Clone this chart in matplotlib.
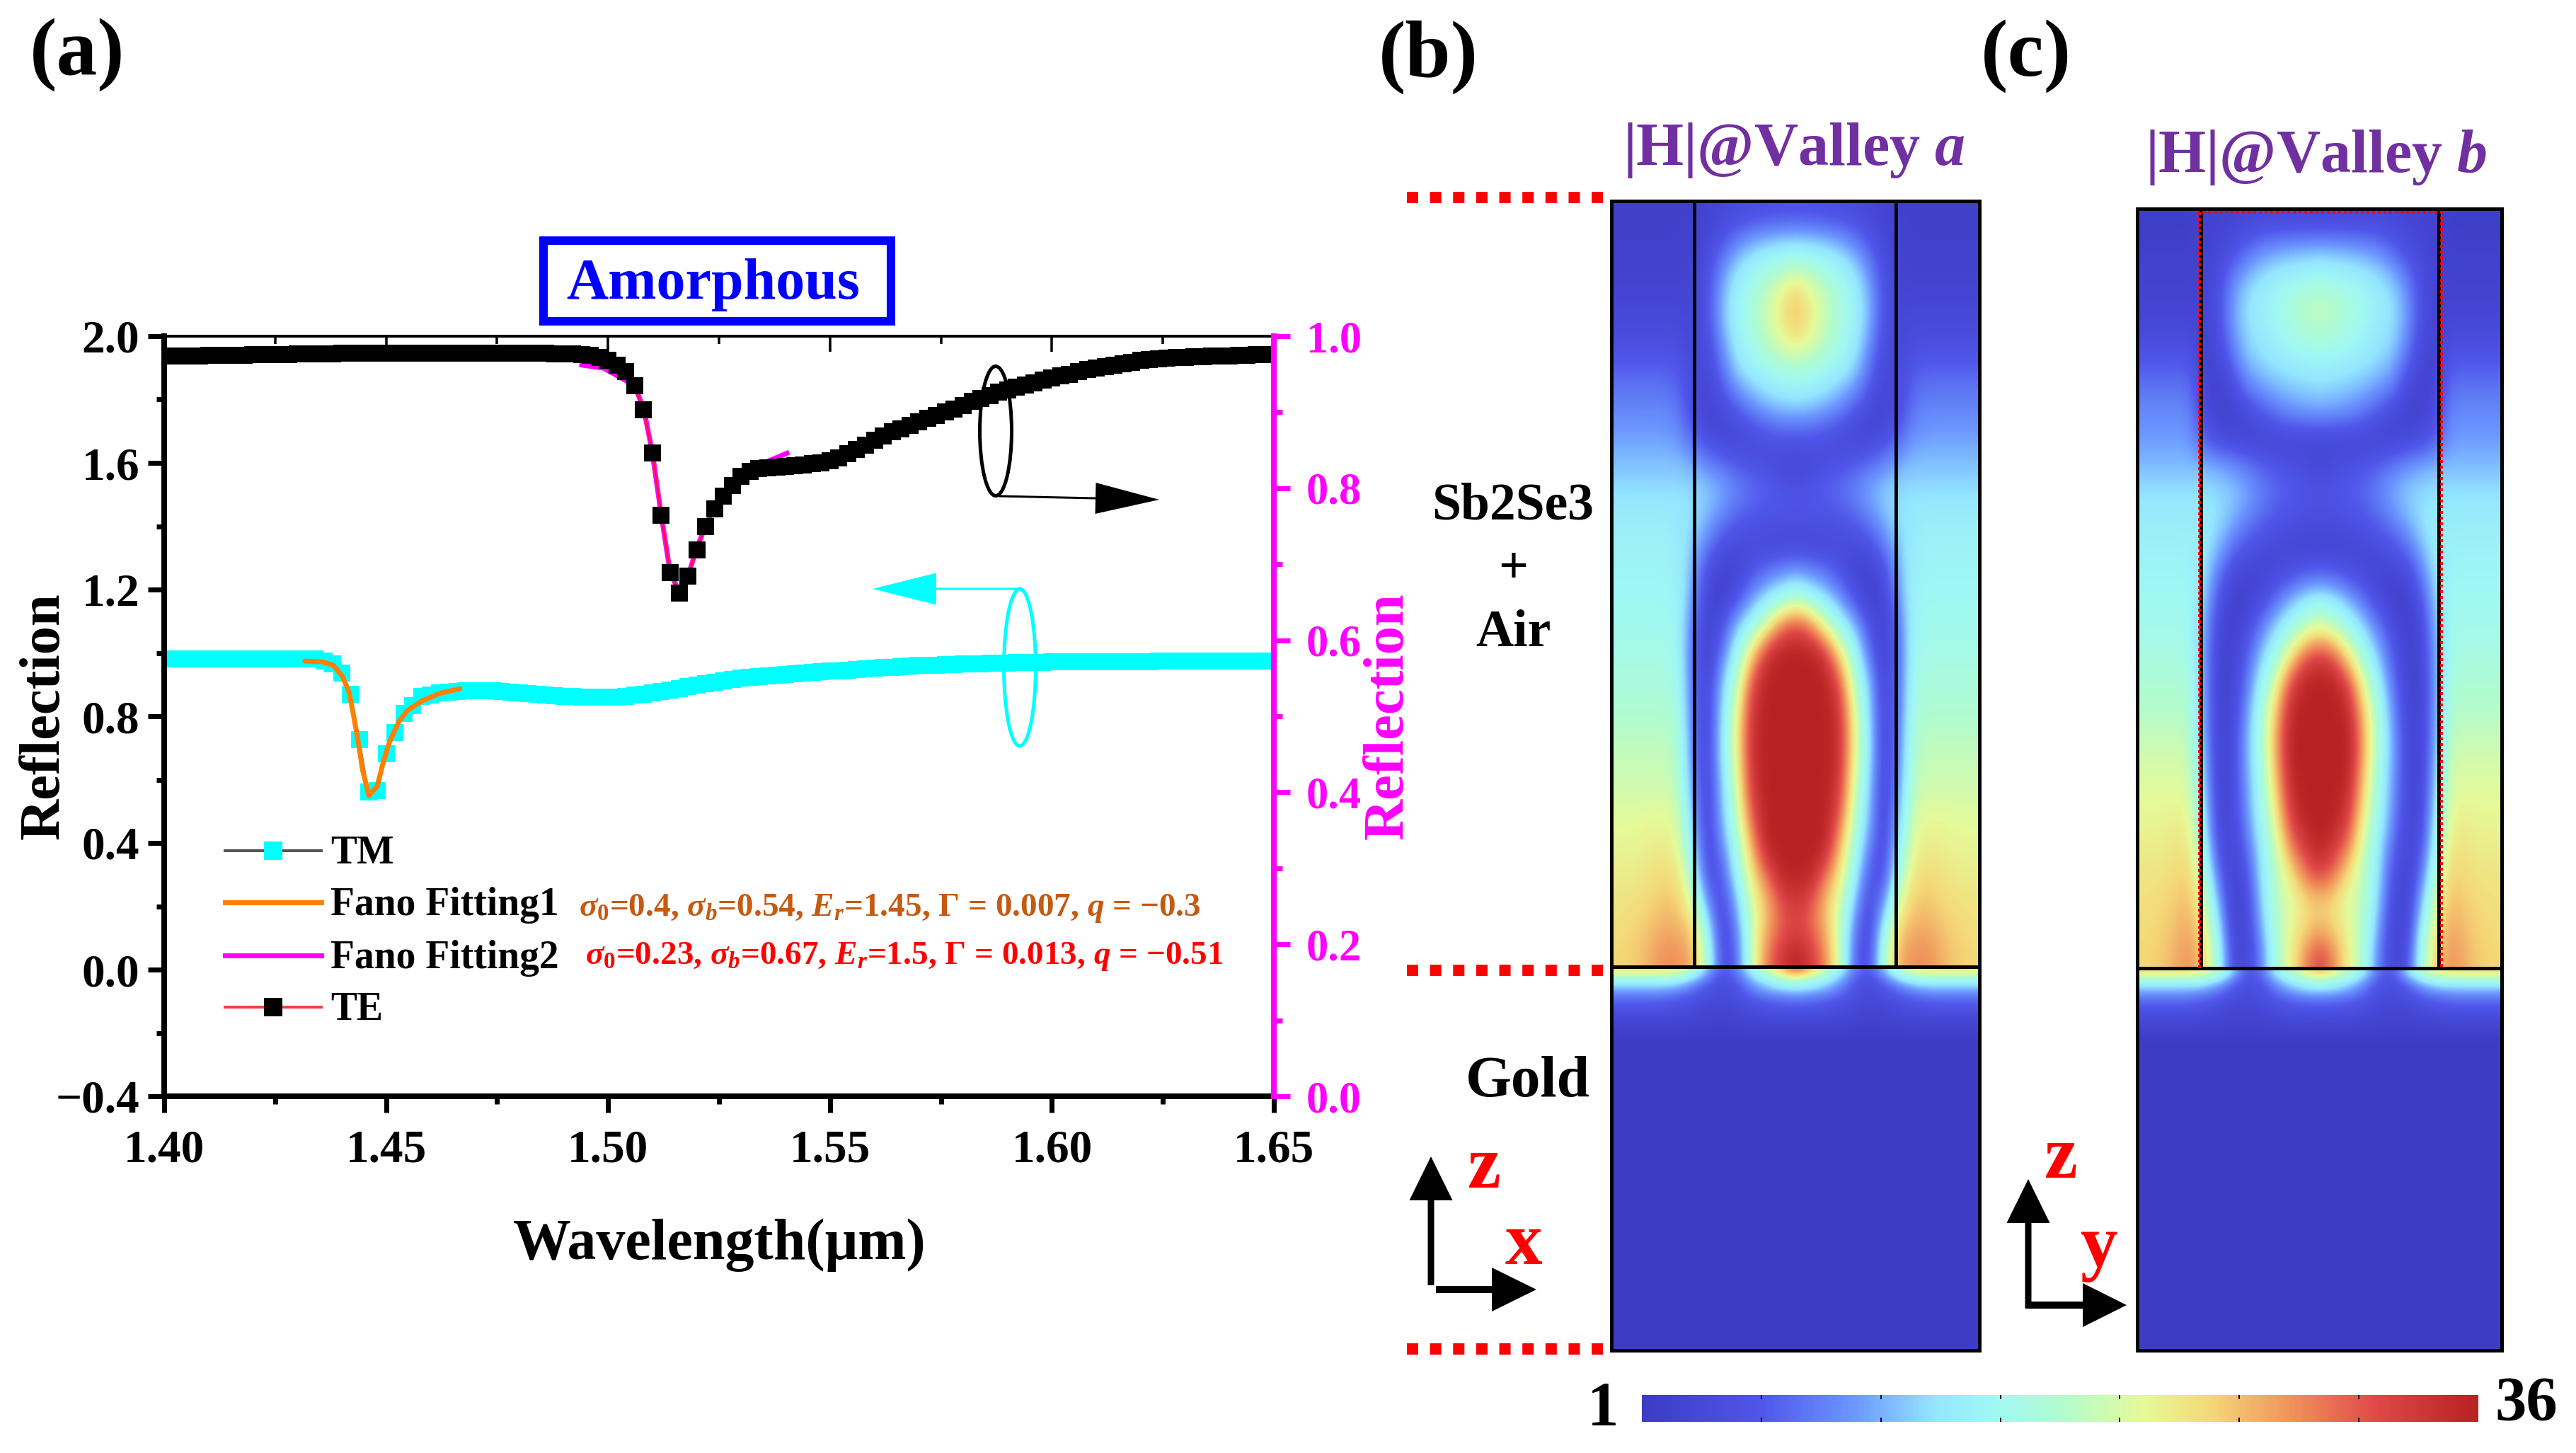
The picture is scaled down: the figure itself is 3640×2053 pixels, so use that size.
import numpy as np
import matplotlib
matplotlib.use('Agg')
import matplotlib.pyplot as plt
from matplotlib.colors import LinearSegmentedColormap, Normalize
from matplotlib.cm import ScalarMappable
from matplotlib.patches import Ellipse, Rectangle
from matplotlib.ticker import MultipleLocator, FormatStrFormatter, FuncFormatter

plt.rcParams['font.family'] = ['Liberation Serif', 'DejaVu Serif']
plt.rcParams['font.weight'] = 'bold'
plt.rcParams['mathtext.fontset'] = 'custom'
plt.rcParams['mathtext.rm'] = 'Liberation Serif:bold'
plt.rcParams['mathtext.it'] = 'Liberation Serif:italic:bold'
plt.rcParams['mathtext.bf'] = 'Liberation Serif:bold'

W, H = 3641, 2053
PX = 0.72  # one pixel in points at dpi 100

# data
wavelength = [
    1.400, 1.402, 1.404, 1.406, 1.408, 1.410, 1.412, 1.414, 1.416, 1.418,
    1.420, 1.422, 1.424, 1.426, 1.428, 1.430, 1.432, 1.434, 1.436, 1.438,
    1.440, 1.442, 1.444, 1.446, 1.448, 1.450, 1.452, 1.454, 1.456, 1.458,
    1.460, 1.462, 1.464, 1.466, 1.468, 1.470, 1.472, 1.474, 1.476, 1.478,
    1.480, 1.482, 1.484, 1.486, 1.488, 1.490, 1.492, 1.494, 1.496, 1.498,
    1.500, 1.502, 1.504, 1.506, 1.508, 1.510, 1.512, 1.514, 1.516, 1.518,
    1.520, 1.522, 1.524, 1.526, 1.528, 1.530, 1.532, 1.534, 1.536, 1.538,
    1.540, 1.542, 1.544, 1.546, 1.548, 1.550, 1.552, 1.554, 1.556, 1.558,
    1.560, 1.562, 1.564, 1.566, 1.568, 1.570, 1.572, 1.574, 1.576, 1.578,
    1.580, 1.582, 1.584, 1.586, 1.588, 1.590, 1.592, 1.594, 1.596, 1.598,
    1.600, 1.602, 1.604, 1.606, 1.608, 1.610, 1.612, 1.614, 1.616, 1.618,
    1.620, 1.622, 1.624, 1.626, 1.628, 1.630, 1.632, 1.634, 1.636, 1.638,
    1.640, 1.642, 1.644, 1.646, 1.648, 1.650]
tm_reflection = [
    .980, .980, .980, .980, .980, .980, .980, .980, .980, .980,
    .980, .980, .980, .980, .980, .980, .980, .980, .975, .965,
    .936, .869, .726, .561, .565, .682, .749, .810, .833, .862,
    .868, .873, .877, .879, .880, .881, .881, .880, .878, .876,
    .874, .871, .869, .867, .865, .863, .862, .861, .860, .860,
    .860, .861, .863, .866, .869, .873, .878, .883, .888, .893,
    .898, .903, .908, .912, .916, .920, .923, .926, .928, .930,
    .932, .934, .936, .938, .940, .942, .944, .946, .948, .950,
    .952, .954, .955, .957, .958, .960, .961, .962, .963, .964,
    .965, .966, .966, .967, .968, .968, .969, .969, .970, .970,
    .971, .971, .971, .972, .972, .972, .972, .973, .973, .973,
    .973, .973, .974, .974, .974, .974, .974, .974, .974, .974,
    .975, .975, .975, .975, .975, .975]
te_reflection = [
    .974, .974, .974, .974, .974, .975, .975, .975, .975, .975,
    .976, .976, .976, .976, .976, .977, .977, .977, .977, .977,
    .978, .978, .978, .978, .978, .978, .978, .978, .978, .978,
    .978, .978, .978, .978, .978, .978, .978, .978, .978, .978,
    .978, .978, .978, .978, .977, .977, .977, .976, .975, .972,
    .968, .962, .953, .935, .903, .846, .764, .689, .662, .684,
    .719, .750, .773, .790, .804, .816, .822, .826, .827, .828,
    .829, .830, .831, .832, .833, .836, .840, .845, .851, .857,
    .863, .869, .874, .878, .883, .887, .892, .896, .900, .904,
    .909, .914, .918, .922, .926, .929, .933, .936, .939, .942,
    .945, .948, .950, .953, .956, .958, .960, .962, .964, .966,
    .968, .969, .970, .971, .972, .972, .973, .973, .974, .974,
    .974, .975, .975, .976, .976, .976]

fit1_x = [1.4317, 1.4356, 1.4381, 1.4402, 1.4417, 1.4427, 1.4437, 1.4447, 1.4461,
          1.4480, 1.4493, 1.4508, 1.4529, 1.4548, 1.4579, 1.4620, 1.4666]
fit1_y = [.974, .972, .961, .925, .874, .800, .720, .630, .550,
          .579, .652, .720, .784, .818, .847, .872, .887]
fit2_x = [1.4941, 1.4990, 1.5060, 1.5081, 1.5100, 1.5120, 1.5140, 1.5160, 1.5180,
          1.5200, 1.5220, 1.5240, 1.5280, 1.5330, 1.5403]
fit2_y = [.962, .958, .935, .903, .846, .764, .689, .664, .684,
          .722, .750, .775, .810, .828, .846]

left_ticks = [-0.4, 0.0, 0.4, 0.8, 1.2, 1.6, 2.0]
right_ticks = [0.0, 0.2, 0.4, 0.6, 0.8, 1.0]
x_ticks = [1.40, 1.45, 1.50, 1.55, 1.60, 1.65]

# |H| field, colour scale 0..1, rows top to interface, columns centre to edge
field_b = [
    [.12, .12, .11, .10, .09, .07, .05, .03, .03, .03, .03, .03, .03],
    [.34, .33, .31, .28, .22, .14, .07, .04, .03, .03, .03, .03, .03],
    [.53, .50, .46, .41, .35, .24, .10, .05, .04, .04, .04, .04, .04],
    [.72, .62, .55, .47, .40, .29, .12, .05, .06, .06, .06, .06, .06],
    [.72, .63, .55, .47, .40, .29, .11, .06, .08, .08, .08, .08, .08],
    [.58, .55, .50, .44, .37, .23, .08, .07, .11, .12, .12, .12, .12],
    [.43, .42, .39, .35, .30, .17, .06, .09, .16, .18, .18, .18, .18],
    [.33, .32, .29, .24, .16, .09, .04, .10, .20, .22, .22, .22, .22],
    [.15, .15, .12, .09, .06, .05, .08, .16, .24, .26, .26, .26, .26],
    [.06, .07, .09, .11, .13, .17, .21, .27, .30, .30, .30, .30, .30],
    [.11, .13, .16, .19, .23, .28, .32, .34, .34, .34, .34, .34, .34],
    [.13, .13, .13, .14, .17, .23, .30, .35, .37, .38, .38, .38, .38],
    [.06, .06, .07, .08, .09, .12, .22, .32, .38, .40, .40, .40, .40],
    [.25, .22, .18, .12, .05, .04, .11, .29, .40, .41, .41, .41, .41],
    [.50, .42, .35, .25, .12, .03, .06, .26, .41, .42, .42, .42, .42],
    [.88, .80, .58, .42, .30, .12, .03, .21, .42, .43, .43, .43, .43],
    [1.0, 1.0, .92, .65, .42, .20, .02, .19, .43, .45, .45, .45, .45],
    [1.0, 1.0, 1.0, .85, .50, .30, .05, .19, .45, .47, .47, .47, .47],
    [1.0, 1.0, 1.0, .93, .58, .34, .05, .20, .47, .49, .49, .49, .49],
    [1.0, 1.0, 1.0, .95, .62, .36, .05, .21, .50, .52, .52, .52, .52],
    [1.0, 1.0, 1.0, .95, .60, .36, .05, .23, .52, .54, .54, .54, .54],
    [1.0, 1.0, 1.0, .92, .56, .32, .05, .26, .54, .56, .56, .56, .56],
    [1.0, 1.0, 1.0, .85, .52, .30, .05, .31, .58, .60, .60, .59, .59],
    [1.0, 1.0, 1.0, .74, .46, .24, .06, .38, .61, .63, .62, .61, .61],
    [1.0, 1.0, .85, .65, .42, .14, .10, .46, .65, .67, .65, .63, .63],
    [.95, .88, .72, .58, .32, .08, .22, .57, .69, .70, .67, .66, .65],
    [.88, .84, .72, .55, .22, .06, .40, .68, .73, .74, .70, .68, .66],
    [1.0, .92, .80, .55, .16, .08, .50, .74, .78, .78, .73, .69, .68]]
field_c = [
    [.08, .08, .08, .08, .08, .07, .06, .05, .04, .02, .02, .02, .02],
    [.30, .29, .28, .26, .23, .17, .10, .06, .05, .03, .03, .03, .03],
    [.42, .41, .40, .38, .35, .30, .21, .09, .05, .04, .04, .04, .04],
    [.54, .53, .48, .44, .39, .35, .26, .10, .05, .05, .05, .05, .05],
    [.50, .49, .45, .41, .37, .34, .25, .09, .05, .08, .08, .08, .08],
    [.42, .41, .39, .37, .34, .31, .18, .06, .05, .13, .13, .13, .13],
    [.34, .33, .32, .30, .27, .22, .09, .04, .07, .19, .19, .19, .19],
    [.27, .26, .24, .20, .14, .08, .04, .04, .10, .23, .23, .23, .23],
    [.06, .06, .06, .05, .05, .05, .07, .10, .16, .26, .26, .26, .26],
    [.07, .09, .11, .13, .17, .21, .25, .28, .30, .30, .30, .30, .30],
    [.12, .13, .15, .18, .22, .28, .32, .34, .35, .35, .35, .35, .35],
    [.10, .10, .11, .13, .17, .22, .29, .35, .38, .38, .38, .38, .38],
    [.04, .05, .06, .07, .09, .12, .19, .30, .38, .40, .40, .40, .40],
    [.18, .16, .12, .08, .05, .05, .08, .21, .37, .41, .41, .41, .41],
    [.42, .38, .30, .20, .10, .04, .03, .13, .34, .43, .43, .43, .43],
    [.62, .55, .45, .35, .22, .10, .03, .08, .31, .44, .44, .44, .44],
    [.92, .85, .65, .45, .32, .15, .04, .06, .29, .46, .46, .46, .46],
    [1.0, 1.0, .88, .60, .40, .20, .05, .05, .29, .49, .49, .49, .49],
    [1.0, 1.0, .97, .70, .46, .25, .06, .05, .29, .51, .51, .51, .51],
    [1.0, 1.0, 1.0, .75, .48, .28, .07, .05, .31, .54, .54, .54, .54],
    [1.0, 1.0, 1.0, .73, .46, .28, .07, .05, .34, .57, .57, .57, .57],
    [1.0, 1.0, .96, .68, .44, .26, .07, .06, .37, .59, .59, .59, .59],
    [1.0, 1.0, .90, .62, .42, .24, .06, .08, .41, .62, .62, .61, .61],
    [1.0, .92, .80, .55, .38, .18, .05, .12, .46, .65, .65, .63, .63],
    [.90, .82, .65, .52, .36, .12, .04, .20, .52, .69, .67, .65, .65],
    [.70, .66, .58, .52, .33, .08, .04, .30, .60, .72, .69, .67, .66],
    [.72, .68, .60, .50, .28, .06, .06, .40, .65, .75, .71, .68, .67],
    [.90, .78, .62, .48, .22, .05, .10, .47, .70, .78, .73, .69, .68]]
# skin of the gold under the interface
gold_b = [
    [.85, .70, .55, .40, .20, .12, .30, .50, .62, .65, .65, .65, .65],
    [.55, .48, .40, .30, .15, .10, .20, .33, .42, .43, .43, .43, .43],
    [.38, .35, .30, .22, .12, .08, .13, .20, .27, .30, .30, .30, .30],
    [.24, .22, .20, .16, .10, .07, .10, .14, .17, .20, .20, .20, .20],
    [.16, .15, .13, .11, .08, .06, .07, .10, .12, .13, .14, .14, .14],
    [.10, .10, .09, .08, .06, .05, .05, .07, .08, .09, .09, .09, .09],
    [.07, .07, .06, .05, .04, .04, .04, .05, .05, .06, .06, .06, .06],
    [.03, .03, .03, .03, .02, .02, .02, .02, .03, .03, .03, .03, .03],
    [.01, .01, .01, .01, .01, .01, .01, .01, .01, .01, .01, .01, .01],
    [.00, .00, .00, .00, .00, .00, .00, .00, .00, .00, .00, .00, .00]]
gold_c = [
    [.72, .62, .52, .38, .18, .12, .34, .52, .62, .66, .66, .66, .66],
    [.50, .45, .38, .28, .14, .10, .22, .35, .42, .44, .44, .44, .44],
    [.35, .33, .28, .20, .11, .08, .14, .22, .28, .30, .30, .30, .30],
    [.22, .21, .19, .15, .09, .07, .10, .15, .18, .20, .20, .20, .20],
    [.15, .14, .13, .10, .08, .06, .07, .10, .12, .14, .14, .14, .14],
    [.10, .09, .09, .07, .06, .05, .05, .07, .08, .09, .09, .09, .09],
    [.06, .06, .06, .05, .04, .04, .04, .05, .05, .06, .06, .06, .06],
    [.03, .03, .03, .03, .02, .02, .02, .02, .03, .03, .03, .03, .03],
    [.01, .01, .01, .01, .01, .01, .01, .01, .01, .01, .01, .01, .01],
    [.00, .00, .00, .00, .00, .00, .00, .00, .00, .00, .00, .00, .00]]

cmap_colors = [(0.00, '#3c3cc4'), (0.14, '#5056ea'), (0.25, '#6b95ff'), (0.35, '#94e6ff'),
               (0.42, '#a0f8f4'), (0.50, '#b0fcd0'), (0.60, '#e6fa98'), (0.68, '#f5d878'),
               (0.78, '#f0905a'), (0.88, '#e04848'), (1.00, '#b92222')]
field_cmap = LinearSegmentedColormap.from_list('field', cmap_colors)


def px_axes(fig, left, top, right, bottom, **kw):
    return fig.add_axes([left / W, 1 - bottom / H, (right - left) / W, (bottom - top) / H], **kw)


def mirror(rows):
    half = np.array(rows)
    return np.hstack([half[:, :0:-1], half])


# field panel, upper part and gold skin are two images
def field_panel(fig, left, top, right, bottom, iface, pillars, field, gold):
    ax = px_axes(fig, left, top, right, bottom)
    ax.set_facecolor(field_cmap(0.0))
    ax.imshow(mirror(field), extent=[left, right, iface, top], cmap=field_cmap, vmin=0, vmax=1,
              aspect='auto', interpolation='bicubic')
    ax.imshow(mirror(gold), extent=[left, right, iface + 120, iface], cmap=field_cmap, vmin=0, vmax=1,
              aspect='auto', interpolation='bicubic')
    ax.set_xlim(left, right)
    ax.set_ylim(bottom, top)
    ax.set_xticks([])
    ax.set_yticks([])
    ax.plot([left, right], [iface, iface], color='k', lw=5 * PX)
    for p in pillars:
        ax.plot([p, p], [top, iface], color='k', lw=5 * PX)
    for s in ax.spines.values():
        s.set_linewidth(5 * PX)
    return ax


fig = plt.figure(figsize=(W / 100, H / 100), dpi=100, facecolor='white')

# panel (a)
ax = px_axes(fig, 232, 475, 1800, 1549)
ax.plot(wavelength, tm_reflection, '-s', color='#333333', mfc='#00ffff', mec='#00ffff',
        ms=24 * PX, mew=0, lw=2 * PX)
ax.plot(fit1_x, fit1_y, color='#ff8000', lw=7 * PX, solid_capstyle='round')
ax.set_xlim(1.40, 1.65)
ax.set_ylim(-0.4, 2.0)
ax.set_yticks(left_ticks)
ax.yaxis.set_minor_locator(MultipleLocator(0.2))
ax.yaxis.set_major_formatter(FuncFormatter(lambda v, p: f'{v:.1f}'.replace('-', '\u2212')))
ax.set_xticks(x_ticks)
ax.xaxis.set_minor_locator(MultipleLocator(0.025))
ax.xaxis.set_major_formatter(FormatStrFormatter('%.2f'))
ax.tick_params(which='major', length=23 * PX, width=7 * PX, labelsize=47)
ax.tick_params(axis='x', which='major', pad=24 * PX)
ax.tick_params(axis='y', which='major', pad=12 * PX)
ax.tick_params(which='minor', length=11 * PX, width=7 * PX)
ax.spines['right'].set_visible(False)
ax.spines['top'].set_visible(False)
ax.spines['left'].set_linewidth(8 * PX)
ax.spines['bottom'].set_linewidth(8 * PX)

top = ax.secondary_xaxis('top')
top.set_xticks(x_ticks)
top.xaxis.set_minor_locator(MultipleLocator(0.025))
top.tick_params(which='major', direction='in', length=22 * PX, width=3.5 * PX, labeltop=False)
top.tick_params(which='minor', direction='in', length=11 * PX, width=3.5 * PX)
top.set_xticklabels([])
top.spines['top'].set_linewidth(4 * PX)

ax2 = ax.twinx()
ax2.plot(fit2_x, fit2_y, color='#ff00ff', lw=7 * PX)
ax2.plot(wavelength, te_reflection, '-s', color='#f02020', mfc='k', mec='k', ms=24 * PX, mew=0, lw=2.5 * PX)
ax2.set_ylim(0, 1)
ax2.set_yticks(right_ticks)
ax2.yaxis.set_minor_locator(MultipleLocator(0.1))
ax2.yaxis.set_major_formatter(FormatStrFormatter('%.1f'))
ax2.tick_params(axis='y', which='major', length=23 * PX, width=7 * PX, labelsize=45, pad=23 * PX,
                color='#ff00ff', labelcolor='#ff00ff')
ax2.tick_params(axis='y', which='minor', length=12 * PX, width=7 * PX, color='#ff00ff')
for side in ['left', 'top', 'bottom']:
    ax2.spines[side].set_visible(False)
ax2.spines['right'].set_color('#ff00ff')
ax2.spines['right'].set_linewidth(8 * PX)

# panels (b) and (c)
field_panel(fig, 2277, 284, 2797, 1908, 1366, [2394, 2679], field_b, gold_b)
field_panel(fig, 3020, 295, 3535, 1908, 1368, [3110, 3446], field_c, gold_c)

# colour bar
cax = px_axes(fig, 2320, 1971, 3502, 2009)
cb = fig.colorbar(ScalarMappable(Normalize(1, 36), field_cmap), cax=cax, orientation='horizontal')
cb.set_ticks([6, 11, 16, 21, 26, 31])
cb.ax.tick_params(length=6 * PX, width=2 * PX, direction='in', top=True, bottom=True, labelbottom=False)
cb.outline.set_visible(False)

# everything else sits on a pixel overlay
ov = fig.add_axes([0, 0, 1, 1], zorder=10)
ov.set_xlim(0, W)
ov.set_ylim(H, 0)
ov.axis('off')

for label, x, y in [('(a)', 109, 77), ('(b)', 2018, 81), ('(c)', 2863, 79)]:
    ov.text(x, y, label, fontsize=83, ha='center', va='center')

ov.text(63, 1012, 'Reflection', fontsize=58, rotation=90, ha='center', va='center')
ov.text(1962, 1012, 'Reflection', fontsize=58, rotation=90, ha='center', va='center', color='#ff00ff')
ov.text(1017, 1759, 'Wavelength(\u03bcm)', fontsize=59, ha='center', va='center')

ov.add_patch(Rectangle((768, 340), 491, 114, fill=False, ec='#0000ff', lw=12 * PX))
ov.text(1008, 402, 'Amorphous', fontsize=59, color='#0000ff', ha='center', va='center')

# legend
ov.plot([318, 454], [1202, 1202], color='#555555', lw=4 * PX)
ov.plot([386], [1202], 's', color='#00ffff', ms=27 * PX, mew=0)
ov.plot([318, 454], [1275, 1275], color='#ff8000', lw=7 * PX)
ov.plot([318, 454], [1350, 1350], color='#ff00ff', lw=7 * PX)
ov.plot([318, 454], [1423, 1423], color='#f04040', lw=4 * PX)
ov.plot([386], [1423], 's', color='k', ms=27 * PX, mew=0)
for label, y in [('TM', 1206), ('Fano Fitting1', 1279), ('Fano Fitting2', 1354), ('TE', 1427)]:
    ov.text(467, y, label, fontsize=40, ha='left', va='center')
ov.text(818, 1283, r'$\sigma_0$=0.4, $\sigma_b$=0.54, $E_r$=1.45, $\mathit{\Gamma}$ = 0.007, $q$ = $-$0.3',
        fontsize=34, color='#c55a11', ha='left', va='center')
ov.text(827, 1351, r'$\sigma_0$=0.23, $\sigma_b$=0.67, $E_r$=1.5, $\mathit{\Gamma}$ = 0.013, $q$ = $-$0.51',
        fontsize=34, color='#ff0000', ha='left', va='center')

# axis pointers
ov.add_patch(Ellipse((1407, 609), 45, 183, fill=False, ec='k', lw=5 * PX))
ov.arrow(1411, 701, 227, 5, width=3, head_width=44, head_length=90, length_includes_head=True,
         color='k', lw=0)
ov.add_patch(Ellipse((1441, 943), 45, 222, fill=False, ec='#00ffff', lw=5 * PX))
ov.arrow(1441, 832, -208, 0, width=3, head_width=45, head_length=90, length_includes_head=True,
         color='#00ffff', lw=0)

# field panel labels
ov.text(2535, 212, '|H|@Valley $a$', fontsize=62, color='#7030a0', ha='center', va='center')
ov.text(3273, 222, '|H|@Valley $b$', fontsize=62, color='#7030a0', ha='center', va='center')
ov.text(2138, 716, 'Sb2Se3', fontsize=53, ha='center', va='center')
ov.text(2138, 805, '+', fontsize=53, ha='center', va='center')
ov.text(2138, 895, 'Air', fontsize=53, ha='center', va='center')
ov.text(2159, 1529, 'Gold', fontsize=60, ha='center', va='center')

for y in [279, 1371, 1906]:
    ov.plot([1988, 2265], [y, y], color='#ff0000', lw=16 * PX, linestyle=(0, (1, 1.04)), dash_capstyle='butt')

# dotted outline on (c)
ov.plot([3108, 3108, 3450, 3450], [1368, 300, 300, 1368], color='#ff0000', lw=4 * PX, linestyle=(0, (1, 1)))

# coordinate arrows
ov.arrow(2022, 1816, 0, -182, width=9, head_width=61, head_length=62, length_includes_head=True, color='k', lw=0)
ov.arrow(2029, 1822, 142, 0, width=10, head_width=62, head_length=63, length_includes_head=True, color='k', lw=0)
ov.arrow(2866, 1848, 0, -182, width=9, head_width=61, head_length=62, length_includes_head=True, color='k', lw=0)
ov.arrow(2862, 1844, 143, 0, width=10, head_width=62, head_length=62, length_includes_head=True, color='k', lw=0)
for label, x, y in [('z', 2097, 1652), ('x', 2153, 1761), ('z', 2912, 1638), ('y', 2966, 1763)]:
    ov.text(x, y, label, fontsize=76, color='#ff0000', ha='center', va='center')

ov.text(2265, 1992, '1', fontsize=64, ha='center', va='center')
ov.text(3570, 1984, '36', fontsize=64, ha='center', va='center')

fig.savefig('out.png', dpi=100)
